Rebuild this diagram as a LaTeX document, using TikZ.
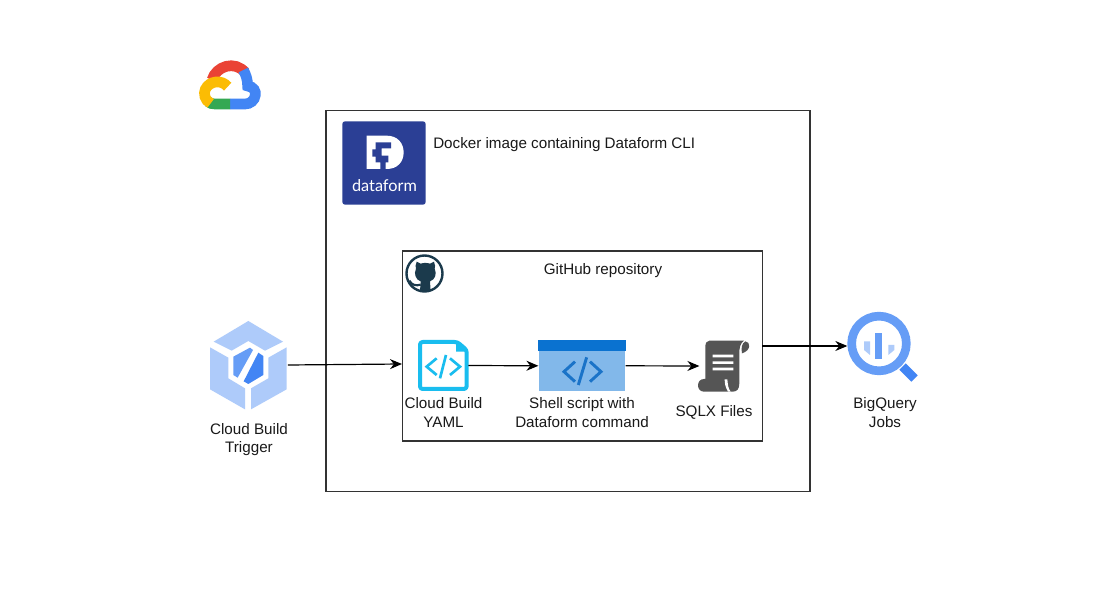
\documentclass[tikz,border=0pt]{standalone}
\usepackage{fontspec}
\setmainfont{Liberation Sans}
\newfontfamily\dfont{Lato}
\usetikzlibrary{arrows.meta}
\definecolor{gred}{HTML}{EA4335}
\definecolor{gblue}{HTML}{4285F4}
\definecolor{gyellow}{HTML}{FBBC04}
\definecolor{ggreen}{HTML}{34A853}
\definecolor{pale}{HTML}{AECBFA}
\definecolor{mid}{HTML}{669DF6}
\definecolor{dfblue}{HTML}{2B3F95}
\definecolor{ghdark}{HTML}{1B3A4C}
\definecolor{yamlc}{HTML}{19BDEF}
\definecolor{shtop}{HTML}{0A72D0}
\definecolor{shbody}{HTML}{82B8EA}
\definecolor{shcode}{HTML}{1A73C8}
\definecolor{scrollc}{HTML}{555555}
\tikzset{
  lbl/.style={font=\fontsize{11.4pt}{14pt}\selectfont,align=center,text=black!90,inner sep=0pt},
  box/.style={draw=black!80,line width=1pt,fill=none},
  flow/.style={-{Stealth[length=9pt,width=7.5pt]},line width=0.9pt,black},
  icon/.style={inner sep=0pt,draw=none},
  cl/.style={line width=8pt,line cap=butt},
}
\begin{document}
\begin{tikzpicture}[x=0.75pt,y=-0.75pt]
\useasboundingbox (0,0) rectangle (1118,616);
\fill[white] (0,0) rectangle (1118,616);

% Boxes
\node[box,minimum width=363pt,minimum height=285.5pt,inner sep=0pt] (docker) at (568,301) {};
\node[box,minimum width=270pt,minimum height=142.5pt,inner sep=0pt] (repo) at (582.5,346) {};

% Google Cloud logo
\begin{scope}[shift={(180,50)},scale=1/3]
\draw[cl,gred] (96,90) .. controls (108,48) and (165,30) .. (196,68);
\draw[cl,gblue] (190,60) .. controls (198,74) and (203,90) .. (203,108)
  .. controls (222,110) and (228,125) .. (226,135)
  .. controls (224,152) and (210,162) .. (195,162) -- (150,162);
\draw[cl,ggreen] (150,162) -- (105,162) .. controls (96,162) and (90,160) .. (84,155);
\draw[cl,gyellow] (92,160) .. controls (74,152) and (70,130) .. (76,118)
  .. controls (88,92) and (125,88) .. (143,110);
\end{scope}

% Dataform logo
\node[icon,fill=dfblue,rounded corners=2pt,minimum width=62.5pt,minimum height=62.5pt] (df) at (384,163) {};
\begin{scope}[shift={(335,115)},scale=1/3]
\fill[white] (95,62) -- (155,62) .. controls (188,62) and (206,85) .. (206,112)
  .. controls (206,140) and (188,162) .. (155,162) -- (95,162) -- cycle;
\fill[dfblue] (168,82) -- (122,82) -- (122,103) -- (112,103) -- (112,125) -- (122,125)
  -- (122,142) -- (136,142) -- (136,162) -- (152,162) -- (152,142) -- (160,142) -- (160,122)
  -- (140,122) -- (140,100) -- (168,100) -- cycle;
\end{scope}
\node[inner sep=0pt,text=white,font=\dfont\fontsize{12.2pt}{14pt}\selectfont] (dfname) at (384.5,186) {dataform};
\node[lbl,anchor=west] (dockerlbl) at (433,144.5) {Docker image containing Dataform CLI};

% GitHub
\node[lbl] (repolbl) at (603,271) {GitHub repository};
\node[icon,circle,draw=ghdark,line width=1.8pt,minimum size=27pt] (gh) at (424.5,273.5) {};
\begin{scope}[shift={(402,250)},scale=1/3]
\fill[ghdark] (44,35) -- (56,41) .. controls (64,38) and (76,38) .. (84,41) -- (96,35)
  .. controls (100,44) and (100,52) .. (98,56) .. controls (106,72) and (98,90) .. (84,94)
  -- (86,124) -- (54,124) -- (56,94) .. controls (42,90) and (34,72) .. (42,56)
  .. controls (40,52) and (40,44) .. (44,35) -- cycle;
\draw[ghdark,line width=1.6pt] (22,92) .. controls (30,106) and (42,108) .. (56,104);
\end{scope}

% Cloud Build Trigger
\node[icon,minimum width=58pt,minimum height=66pt] (trig) at (249,365) {};
\begin{scope}[shift={(195,310)},scale=1/3]
\fill[pale] (160,33) -- (264,95) -- (210,122) -- (160,93) -- (110,122) -- (56,95) -- cycle;
\fill[pale] (45,112) -- (100,143) -- (100,205) -- (150,235) -- (150,298) -- (45,238) -- cycle;
\fill[pale] (275,112) -- (275,238) -- (168,298) -- (168,235) -- (220,205) -- (220,143) -- cycle;
\fill[mid] (165,113) -- (115,140) -- (115,195) -- (128,203) -- (174,120) -- cycle;
\fill[gblue] (190,128) -- (205,138) -- (205,195) -- (160,222) -- (146,214) -- cycle;
\end{scope}
\node[lbl] (triglbl) at (249,439.5) {Cloud Build\\Trigger};

% YAML
\node[icon,minimum width=37pt,minimum height=38pt] (yaml) at (443.5,365.5) {};
\begin{scope}[shift={(400,250)},scale=1/3]
\draw[yamlc,line width=3pt,line join=round,rounded corners=2pt] (60,276) -- (60,417) -- (200,417) -- (200,300) -- (172,276) -- cycle;
\fill[yamlc] (168,276) -- (168,305) -- (200,305) -- cycle;
\draw[yamlc,line width=2pt] (110,325) -- (80,350) -- (110,375);
\draw[yamlc,line width=2pt] (150,325) -- (180,350) -- (150,375);
\draw[yamlc,line width=2pt] (138,315) -- (120,385);
\end{scope}
\node[lbl] (yamllbl) at (443.5,412.5) {Cloud Build\\YAML};

% Shell script
\node[icon,fill=shbody,minimum width=65pt,minimum height=38.5pt] (shell) at (582,365.8) {};
\fill[shtop] (shell.north west) rectangle ([yshift=-8.2pt]shell.north east);
\begin{scope}[shift={(400,250)},scale=1/3]
\draw[shcode,line width=2.2pt] (525,335) -- (492,365) -- (525,395);
\draw[shcode,line width=2.2pt] (570,335) -- (603,365) -- (570,395);
\draw[shcode,line width=2.2pt] (560,322) -- (535,405);
\end{scope}
\node[lbl] (shelllbl) at (582,412.5) {Shell script with\\Dataform command};

% SQLX
\node[icon,minimum width=38pt,minimum height=40pt] (sqlx) at (725,366) {};
\begin{scope}[shift={(640,300)},scale=1/3]
\fill[scrollc] (208,122) -- (312,122) .. controls (300,130) and (298,145) .. (298,160)
  -- (298,250) .. controls (298,268) and (290,275) .. (278,275) -- (192,275)
  .. controls (168,275) and (168,237) .. (192,237) -- (196,237) -- (196,140)
  .. controls (196,130) and (200,122) .. (208,122) -- cycle;
\fill[white] (262,238) .. controls (264,255) and (264,265) .. (272,275) -- (264,275)
  .. controls (256,262) and (254,250) .. (254,238) -- cycle;
\fill[scrollc] (316,124) .. controls (332,124) and (334,152) .. (306,160) .. controls (303,145) and (305,130) .. (316,124) -- cycle;
\fill[white] (218,164) rectangle (280,172) (218,184) rectangle (280,192) (218,203) rectangle (280,211);
\end{scope}
\node[lbl] (sqlxlbl) at (714,412.5) {SQLX Files};

% BigQuery
\node[icon,circle,draw=mid,line width=6.5pt,minimum size=41pt] (bq) at (879,343.5) {};
\draw[gblue,line width=6.8pt] (bq.center) ++(23.5,23) -- ++(12,12);
\begin{scope}[shift={(640,300)},scale=1/3]
\fill[mid] (705,98) rectangle (727,177);
\fill[pale] (672,124) -- (690,124) -- (690,165) -- (672,150) -- cycle;
\fill[pale] (745,135) -- (763,135) -- (763,150) -- (745,165) -- cycle;
\end{scope}
\node[lbl] (bqlbl) at (885,412.5) {BigQuery\\Jobs};

% Connectors
\coordinate (repoin) at (402,364);
\coordinate (repoout) at (762,346);
\draw[flow] (trig.east) -- (repoin);
\draw[flow] (yaml.east) -- (shell.west);
\draw[flow] (shell.east) -- (sqlx.west);
\draw[flow] (repoout) -- (bq.west |- repoout);
\end{tikzpicture}
\end{document}
